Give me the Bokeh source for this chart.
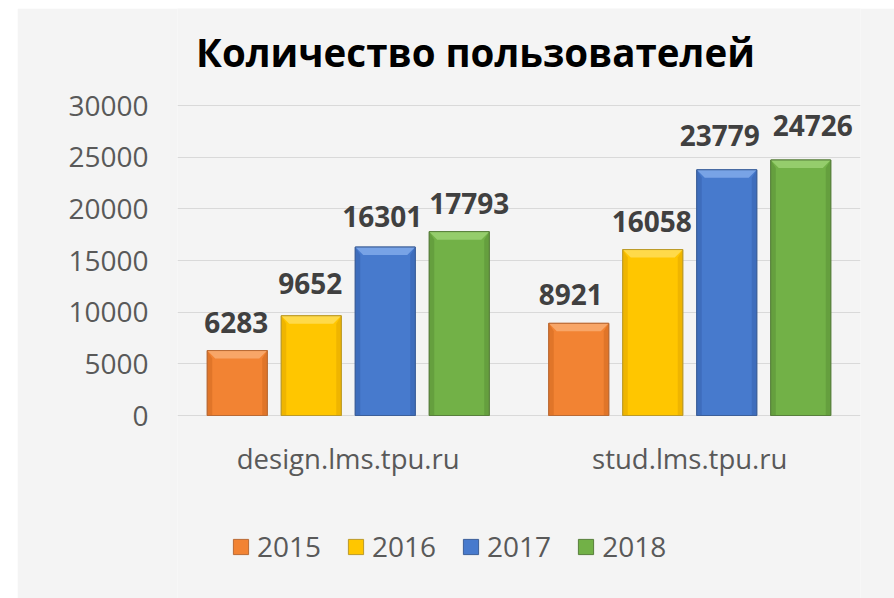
from bokeh.plotting import figure
from bokeh.models import (ColumnDataSource, Range1d, FixedTicker, LabelSet, Legend,
                          LegendItem, Label)
from bokeh.core.properties import value
from bokeh.embed import file_html
from bokeh.resources import INLINE

# ---- data ----
title_text = "Количество пользователей"
categories = ["design.lms.tpu.ru", "stud.lms.tpu.ru"]
years = ["2015", "2016", "2017", "2018"]
values_2015 = [6283, 8921]
values_2016 = [9652, 16058]
values_2017 = [16301, 23779]
values_2018 = [17793, 24726]
series = [values_2015, values_2016, values_2017, values_2018]
y_ticks = [0, 5000, 10000, 15000, 20000, 25000, 30000]

# ---- styles ----
main_colors = ["#F28333", "#FFC600", "#477ACD", "#72B147"]
light_colors = ["#F8A668", "#FFDA4A", "#78A3E6", "#95CD6C"]
side_colors = ["#E07529", "#EFB500", "#3E6DBC", "#659F3E"]
line_colors = ["#B96A35", "#BB9A2A", "#3C5F99", "#587F3C"]
# hand-placed data-label nudges (px) as in the original: (dx, gap above bar)
label_dx = [[-1, -8], [-1, -1], [-3, -7], [10, 12]]
label_gap = [[18, 18], [22, 18], [20, 24], [18, 24]]

PAD_L, PAD_T = 17, 8           # white strips left of / above the panel
W, H = 894 - PAD_L, 598 - PAD_T
ML, MR = 160, 34
top_h = 97                     # space above the 30000 line (title area)
plot_h = 310                   # pixel height of 0..30000
below_h = H - top_h - plot_h   # space below zero (category labels, legend)
frame_w = W - ML - MR
YMAX = 30000
x_per_px = 2.0 / frame_w
y_per_px = YMAX / plot_h
YMIN = -below_h * y_per_px
YTOP = YMAX + top_h * y_per_px

p = figure(width=W, height=H, output_backend="svg", toolbar_location=None,
           x_range=Range1d(0, 2), y_range=Range1d(YMIN, YTOP),
           min_border_left=ML, min_border_right=MR, min_border_top=0,
           min_border_bottom=0, background_fill_color="#F4F4F4",
           border_fill_color="#F4F4F4", outline_line_color=None,
           margin=(PAD_T, 0, 0, PAD_L))

# title, centred a little left of the plot area, above the top gridline
p.add_layout(Label(x=298 * x_per_px, y=YMAX + 54 * y_per_px, text=title_text,
                   text_align="center", text_baseline="alphabetic",
                   text_font="Open Sans", text_font_size="38.5px",
                   text_font_style="bold", text_color="#000000"))

pitch = 74 * x_per_px
bar_w = 60 * x_per_px
hw = bar_w / 2
ix = 8 * x_per_px
iy = 8 * y_per_px
sx = 5 * x_per_px

legend_items = []
for j, vals in enumerate(series):
    centers = [i + 0.5 + (j - 1.5) * pitch for i in range(len(categories))]
    src = ColumnDataSource(dict(x=centers, top=vals, label=[str(v) for v in vals],
                                dx=label_dx[j], dy=label_gap[j]))
    r = p.vbar(x="x", top="top", bottom=0, width=bar_w, source=src,
               fill_color=main_colors[j], line_color=line_colors[j], line_width=1)
    left_xs, left_ys, right_xs, right_ys, top_xs, top_ys = [], [], [], [], [], []
    for c, v in zip(centers, vals):
        left_xs.append([c - hw, c - hw + sx, c - hw + sx, c - hw])
        left_ys.append([v, v - iy, 0, 0])
        right_xs.append([c + hw, c + hw - sx, c + hw - sx, c + hw])
        right_ys.append([v, v - iy, 0, 0])
        top_xs.append([c - hw, c + hw, c + hw - ix, c - hw + ix])
        top_ys.append([v, v, v - iy, v - iy])
    p.patches(left_xs, left_ys, fill_color=side_colors[j], line_color=None)
    p.patches(right_xs, right_ys, fill_color=side_colors[j], line_color=None)
    p.patches(top_xs, top_ys, fill_color=light_colors[j], line_color=None)
    p.vbar(x="x", top="top", bottom=0, width=bar_w, source=src, fill_color=None,
           line_color=line_colors[j], line_width=1)
    labels = LabelSet(x="x", y="top", text="label", source=src,
                      x_offset="dx", y_offset="dy",
                      text_align="center", text_baseline="alphabetic",
                      text_font=value("Open Sans"), text_font_size="28px",
                      text_font_style="bold", text_color="#404040")
    p.add_layout(labels)
    legend_items.append(LegendItem(label=years[j], renderers=[r]))

# category labels under the groups
cat_src = ColumnDataSource(dict(x=[i + 0.5 for i in range(len(categories))],
                                y=[0] * len(categories), text=categories))
p.add_layout(LabelSet(x="x", y="y", text="text", source=cat_src, y_offset=-43,
                      text_align="center", text_baseline="middle",
                      text_font=value("Open Sans"), text_font_size="27.5px",
                      text_color="#595959"))

p.xaxis.visible = False

p.yaxis.ticker = FixedTicker(ticks=y_ticks)
p.yaxis.major_label_text_font = "Open Sans"
p.yaxis.major_label_text_font_size = "28px"
p.yaxis.major_label_text_color = "#595959"
p.yaxis.major_label_standoff = 23
p.yaxis.axis_line_color = None
p.yaxis.major_tick_line_color = None
p.yaxis.minor_tick_line_color = None

p.xgrid.grid_line_color = None
p.ygrid.ticker = FixedTicker(ticks=y_ticks)
p.ygrid.grid_line_color = "#D9D9D9"
p.ygrid.grid_line_width = 1

legend = Legend(items=legend_items, orientation="horizontal", location=(54, 33),
                label_text_font="Open Sans", label_text_font_size="28px",
                label_text_color="#595959", glyph_width=19, glyph_height=19,
                label_standoff=7, spacing=25, padding=0, margin=0,
                border_line_color=None, background_fill_color=None)
p.add_layout(legend, "center")

open("out.html", "w").write(file_html(p, INLINE))
